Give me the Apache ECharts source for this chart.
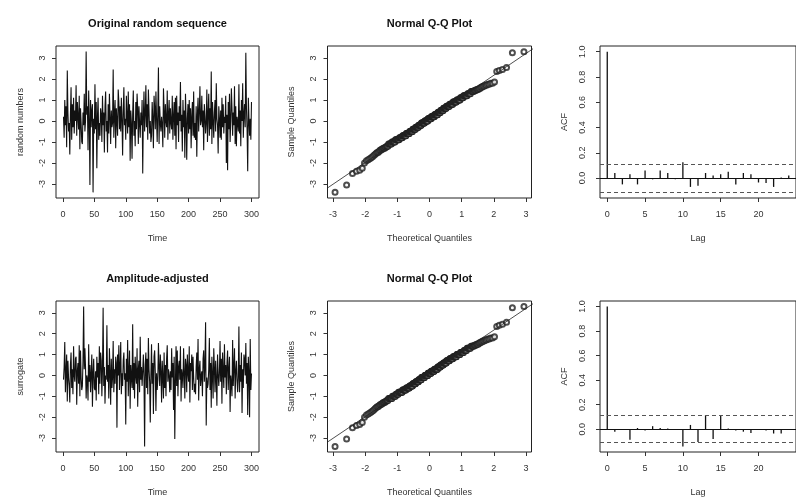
<!DOCTYPE html>
<html>
<head>
<meta charset="utf-8">
<script src="https://cdn.jsdelivr.net/npm/echarts@6/dist/echarts.min.js"></script>
<style>
html,body{margin:0;padding:0;background:#fff;}
#chart{width:796px;height:498px;}
</style>
</head>
<body>
<div id="chart"></div>
<script>
// ---------- DATA ----------
const panelTitles = ["Original random sequence", "Normal Q-Q Plot", "Amplitude-adjusted", "Normal Q-Q Plot"];
const tsYName = ["random numbers", "surrogate"];

const originalSeries = [
 0.2,-0.8,1.0,-0.2,0.7,-1.25,2.4,0.4,-0.5,-0.1,
 -1.6,0.3,1.6,-0.9,0.8,-0.3,1.1,-0.6,0.5,0.0,
 1.7,-0.7,0.9,0.2,-0.4,1.2,-1.35,0.6,-0.1,-1.0,
 -1.1,0.4,-0.2,1.3,-0.5,0.0,3.3,0.3,0.7,-1.4,
 1.45,0.1,-3.05,1.0,-0.3,0.5,0.8,-3.4,0.1,-0.6,
 1.75,-0.4,0.9,-2.25,0.2,1.1,-0.9,-0.1,-0.7,0.6,
 0.3,-1.0,1.2,-0.2,0.4,-1.5,0.7,1.4,-0.5,0.0,
 -1.5,0.8,-0.6,1.3,0.2,-1.1,0.5,-0.3,-0.1,2.45,
 -0.8,0.3,1.0,-1.3,0.6,0.0,-0.7,1.5,0.9,-0.4,
 0.7,-0.5,1.1,0.1,-1.65,0.4,1.6,-0.2,0.1,-0.9,
 1.2,0.2,-0.6,1.4,-0.3,0.8,-1.9,0.5,-0.1,-1.8,
 0.3,1.45,-0.7,0.0,-1.2,0.9,-0.4,1.3,0.6,-1.1,
 0.7,-0.1,-0.8,0.4,-0.2,1.0,-2.5,0.2,1.4,-0.5,
 0.3,1.7,-0.3,0.8,-0.9,1.5,0.5,-0.6,0.0,-1.0,
 -0.7,0.9,0.1,-1.3,1.2,0.6,-0.4,1.4,0.1,-1.0,
 0.4,2.55,-1.1,0.7,-0.1,-0.5,0.2,-0.2,-1.25,1.55,
 0.5,-0.8,0.8,0.0,-0.3,1.45,-0.9,0.3,1.0,-0.6,
 0.6,-0.1,-0.4,1.2,-0.9,0.2,0.9,-0.7,1.1,-1.35,
 1.2,-0.2,0.4,-1.0,0.7,0.0,1.85,-0.5,0.3,-1.45,
 1.0,-0.3,0.5,-1.75,1.3,0.1,-1.85,0.1,0.8,-0.6,
 1.0,-0.4,0.6,-1.3,0.2,0.9,-0.7,1.4,-0.8,-0.1,
 -0.9,0.7,-1.7,0.3,1.1,-0.5,0.4,1.65,-0.2,0.0,
 1.2,-0.3,0.5,-1.4,0.8,0.2,-0.6,-0.1,1.5,-1.0,
 0.3,1.3,-0.7,0.6,-0.4,2.35,-1.1,0.9,0.0,-0.8,
 0.4,1.0,-0.5,1.8,0.1,-0.2,-1.55,0.7,0.1,-0.8,
 0.5,-0.9,1.1,-0.3,0.8,-0.6,0.2,-0.1,1.2,-2.0,
 0.3,-2.35,0.9,-0.4,1.3,-1.0,0.0,1.55,0.6,-0.7,
 0.4,-0.2,1.65,-1.1,0.7,-1.2,0.2,-0.1,-0.5,1.75,
 -0.6,0.5,-1.2,1.0,0.0,1.8,-0.8,0.3,0.8,-0.3,
 3.25,0.6,-0.4,-2.4,1.1,0.1,-0.7,0.1,-0.9,0.9
];

const surrogateSeries = [
 -0.2,0.4,1.6,-0.8,0.2,1.0,-1.25,0.7,-0.1,-0.5,
 -1.3,0.5,1.1,-0.6,0.3,-0.9,1.4,0.0,-0.3,0.8,
 0.9,-1.4,0.2,0.6,-0.4,1.45,-1.0,1.2,-0.1,-0.7,
 -0.5,0.7,3.3,0.3,1.3,0.4,-1.1,0.0,-0.2,-1.2,
 1.5,-0.3,0.5,-0.8,0.1,1.0,-1.5,0.1,0.8,-0.6,
 -0.7,0.2,-1.2,0.9,-0.1,0.6,-0.9,1.4,-0.4,1.1,
 0.7,-1.0,0.3,3.25,-0.5,0.4,-1.35,0.0,-0.2,2.4,
 -0.3,0.5,-1.1,1.3,0.2,-1.4,0.8,-0.6,-0.1,1.65,
 -0.8,0.3,-0.4,0.9,0.6,-2.5,1.0,0.0,1.45,-0.7,
 0.4,1.6,-0.9,0.1,-0.5,0.7,1.1,-0.2,0.1,-2.35,
 0.8,-0.3,1.7,-1.0,0.2,1.2,-1.6,0.5,-0.1,-0.6,
 2.45,-0.7,0.6,-1.1,0.9,0.0,-0.4,1.3,-1.5,0.3,
 0.7,-0.8,1.85,-0.2,0.4,-0.5,0.2,1.0,-0.1,-3.4,
 0.5,1.1,-0.6,0.8,-0.9,1.8,0.3,-0.3,-2.25,0.0,
 1.5,-0.4,0.6,-1.85,0.9,1.2,0.1,-1.7,0.1,-0.7,
 -0.2,1.55,0.4,-0.5,1.0,0.2,-1.3,0.7,-0.1,-1.1,
 1.1,-0.6,0.5,-1.0,0.8,1.45,-0.3,0.3,0.0,-0.8,
 0.2,-0.7,1.3,-0.1,0.6,-1.65,0.9,-3.05,-0.4,1.4,
 -0.5,1.2,-1.0,0.4,0.7,-0.2,1.4,-1.25,0.3,0.0,
 -0.6,1.3,0.1,-1.1,0.8,0.5,-0.8,1.0,0.1,-0.3,
 1.4,-1.3,0.6,0.2,1.0,-0.7,0.9,-0.1,-0.8,-0.4,
 -0.9,0.4,1.1,-0.2,1.75,-1.2,0.3,0.7,-0.5,0.0,
 0.2,-1.0,0.8,1.2,-0.3,0.5,2.55,-2.4,-0.1,-0.6,
 -0.4,0.3,1.8,-0.7,0.6,-1.55,0.9,0.0,-1.1,1.3,
 0.4,-0.8,0.7,-0.2,-1.45,1.0,0.1,-0.5,0.1,1.65,
 -0.3,0.8,-1.35,1.1,0.2,-0.6,1.5,-0.1,0.5,-0.9,
 0.6,1.2,-0.7,0.3,0.9,-1.75,0.0,-0.4,-1.0,1.7,
 -0.5,0.4,1.3,-1.1,0.2,0.7,-0.2,-0.8,-0.1,2.35,
 -0.8,0.5,-0.3,1.1,-1.8,0.3,-0.6,1.0,0.8,0.0,
 1.55,-0.4,0.6,-1.9,0.9,0.1,-2.0,1.75,-0.7,0.1
];

const acfLags = [0,1,2,3,4,5,6,7,8,9,10,11,12,13,14,15,16,17,18,19,20,21,22,23,24];
const acfOriginal = [1.0,0.04,-0.05,0.03,-0.05,0.06,-0.01,0.06,0.04,-0.01,0.125,-0.07,-0.06,0.04,0.02,0.03,0.05,-0.05,0.04,0.03,-0.035,-0.04,-0.07,0.005,0.02];
const acfSurrogate = [1.0,-0.02,0.0,-0.085,0.01,-0.01,0.025,0.01,0.005,0.0,-0.14,0.035,-0.105,0.115,-0.08,0.115,0.005,-0.01,-0.02,-0.03,0.0,-0.01,-0.035,-0.035,0.0];

const timeTicks = [0,50,100,150,200,250,300];
const valueTicks = [-3,-2,-1,0,1,2,3];
const qqXTicks = [-3,-2,-1,0,1,2,3];
const lagTicks = [0,5,10,15,20];
const acfTicks = [0,0.2,0.4,0.6,0.8,1.0];

// ---------- helpers ----------
function qnorm(p){
  const a=[-3.969683028665376e+01,2.209460984245205e+02,-2.759285104469687e+02,1.383577518672690e+02,-3.066479806614716e+01,2.506628277459239e+00];
  const b=[-5.447609879822406e+01,1.615858368580409e+02,-1.556989798598866e+02,6.680131188771972e+01,-1.328068155288572e+01];
  const c=[-7.784894002430293e-03,-3.223964580411365e-01,-2.400758277161838e+00,-2.549732539343734e+00,4.374664141464968e+00,2.938163982698783e+00];
  const d=[7.784695709041462e-03,3.224671290700398e-01,2.445134137142996e+00,3.754408661907416e+00];
  const plow=0.02425, phigh=1-plow;
  let q,r;
  if(p<plow){q=Math.sqrt(-2*Math.log(p));return (((((c[0]*q+c[1])*q+c[2])*q+c[3])*q+c[4])*q+c[5])/((((d[0]*q+d[1])*q+d[2])*q+d[3])*q+1);}
  if(p>phigh){q=Math.sqrt(-2*Math.log(1-p));return -(((((c[0]*q+c[1])*q+c[2])*q+c[3])*q+c[4])*q+c[5])/((((d[0]*q+d[1])*q+d[2])*q+d[3])*q+1);}
  q=p-0.5; r=q*q;
  return (((((a[0]*r+a[1])*r+a[2])*r+a[3])*r+a[4])*r+a[5])*q/(((((b[0]*r+b[1])*r+b[2])*r+b[3])*r+b[4])*r+1);
}
function quantile7(sorted,p){
  const h=(sorted.length-1)*p, lo=Math.floor(h);
  return sorted[lo]+(h-lo)*((sorted[Math.min(lo+1,sorted.length-1)])-sorted[lo]);
}
function rRange(lo,hi){ const s=hi-lo; return [lo-0.04*s, hi+0.04*s]; }
function qqData(vals){
  const n=vals.length, s=vals.slice().sort((x,y)=>x-y);
  const pts=s.map((v,i)=>[qnorm((i+1-0.5)/n), v]);
  const x1=qnorm(0.25), x2=qnorm(0.75), y1=quantile7(s,0.25), y2=quantile7(s,0.75);
  const slope=(y2-y1)/(x2-x1), inter=y1-slope*x1;
  const line=[[-5, inter-5*slope],[5, inter+5*slope]];
  return {pts, line, xr: rRange(pts[0][0], pts[n-1][0])};
}

const timeIndex = originalSeries.map((_, i) => i + 1);
const nObs = originalSeries.length;
const ci = 1.96/Math.sqrt(nObs);

// ---------- layout ----------
const TXT = '#333', FONT = 'Liberation Sans';
const rows = [46, 301], H = 152;
const cols = [{left:56,width:203},{left:327.5,width:204},{left:600,width:201.4}];
const grids = [];
rows.forEach(t => cols.forEach(c => grids.push({left:c.left, top:t, width:c.width, height:H, show:true, borderColor:'#222', borderWidth:1, backgroundColor:'transparent'})));

function xAx(gi, min, max, ticks, name, fmt){
  return {type:'value', gridIndex:gi, min, max, name, nameLocation:'middle', nameGap:36,
    nameTextStyle:{fontSize:9, color:TXT, fontFamily:FONT},
    axisLine:{show:false, onZero:false}, splitLine:{show:false},
    axisTick:{show:true, length:4, customValues:ticks, lineStyle:{color:'#333', width:1}},
    axisLabel:{customValues:ticks, fontSize:9, color:TXT, fontFamily:FONT, margin:12, formatter: fmt || (v=>String(v))}};
}
function yAx(gi, min, max, ticks, name, fmt, margin){
  return {type:'value', gridIndex:gi, min, max, name, nameLocation:'middle', nameGap:31,
    nameTextStyle:{fontSize:9, color:TXT, fontFamily:FONT},
    axisLine:{show:false, onZero:false}, splitLine:{show:false},
    axisTick:{show:true, length:4, customValues:ticks, lineStyle:{color:'#333', width:1}},
    axisLabel:{customValues:ticks, rotate:90, fontSize:9, color:TXT, fontFamily:FONT, margin: margin || 9, formatter: fmt || (v=>String(v))}};
}

const xAxes = [], yAxes = [], series = [];
[[originalSeries, acfOriginal, tsYName[0]], [surrogateSeries, acfSurrogate, tsYName[1]]].forEach((set, r) => {
  const [vals, acf, yname] = set;
  const g0 = r*3, g1 = r*3+1, g2 = r*3+2;
  const vr = rRange(Math.min(...vals), Math.max(...vals));
  const tr = rRange(timeIndex[0], timeIndex[timeIndex.length-1]);
  xAxes.push(xAx(g0, tr[0], tr[1], timeTicks, 'Time'));
  yAxes.push(yAx(g0, vr[0], vr[1], valueTicks, yname));
  series.push({type:'line', xAxisIndex:g0, yAxisIndex:g0, data: timeIndex.map((t,i)=>[t, vals[i]]),
    showSymbol:false, symbol:'none', lineStyle:{color:'#111', width:1.1}, silent:true});

  const qq = qqData(vals);
  xAxes.push(xAx(g1, qq.xr[0], qq.xr[1], qqXTicks, 'Theoretical Quantiles'));
  yAxes.push(yAx(g1, vr[0], vr[1], valueTicks, 'Sample Quantiles'));
  series.push({type:'scatter', xAxisIndex:g1, yAxisIndex:g1, data: qq.pts, symbol:'emptyCircle', symbolSize:5,
    itemStyle:{color:'#222', borderColor:'#222', borderWidth:0.8}, silent:true});
  series.push({type:'line', xAxisIndex:g1, yAxisIndex:g1, data: qq.line, showSymbol:false, symbol:'none', clip:true,
    lineStyle:{color:'#222', width:0.8}, silent:true});

  const ar = rRange(Math.min(...acf, -ci), Math.max(...acf, ci));
  const lr = rRange(acfLags[0], acfLags[acfLags.length-1]);
  xAxes.push(xAx(g2, lr[0], lr[1], lagTicks, 'Lag'));
  yAxes.push(yAx(g2, ar[0], ar[1], acfTicks, 'ACF', v=>v.toFixed(1), 13));
  series.push({type:'bar', xAxisIndex:g2, yAxisIndex:g2, data: acfLags.map((l,i)=>[l, acf[i]]), barWidth:1.3,
    itemStyle:{color:'#111'}, silent:true,
    markLine:{silent:true, symbol:['none','none'], label:{show:false}, animation:false,
      data:[{yAxis:0, lineStyle:{type:'solid', color:'#111', width:1}},
            {yAxis:ci, lineStyle:{type:[4,3], color:'#555', width:1}},
            {yAxis:-ci, lineStyle:{type:[4,3], color:'#555', width:1}}]}});
});

const titleX = [cols[0].left+cols[0].width/2, cols[1].left+cols[1].width/2];
const graphics = [
  {text:panelTitles[0], x:titleX[0], y:24},
  {text:panelTitles[1], x:titleX[1], y:24},
  {text:panelTitles[2], x:titleX[0], y:279},
  {text:panelTitles[3], x:titleX[1], y:279}
].map(t => ({type:'text', x:t.x, y:t.y, silent:true,
  style:{text:t.text, fontSize:11, fontWeight:'bold', fontFamily:FONT, fill:'#111', align:'center', verticalAlign:'middle'}}));

const chart = echarts.init(document.getElementById('chart'), null, {renderer:'canvas'});
chart.setOption({
  animation:false,
  backgroundColor:'#fff',
  grid: grids,
  xAxis: xAxes,
  yAxis: yAxes,
  series: series,
  graphic: graphics
});
</script>
</body>
</html>
